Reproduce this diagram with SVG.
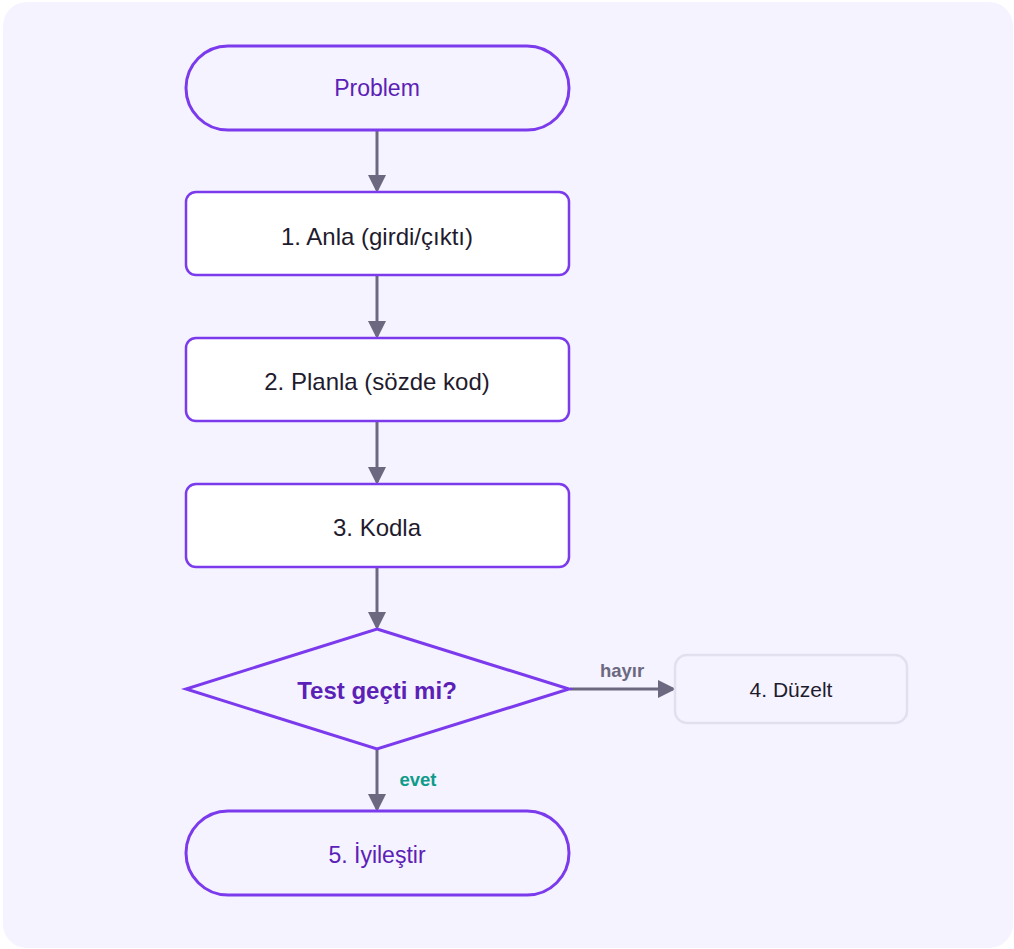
<svg xmlns="http://www.w3.org/2000/svg" width="1014" height="949" viewBox="0 0 1014 949">
<style>
.bg{fill:#f5f3ff}
.term{fill:#f5f3ff;stroke:#7c3aed;stroke-width:3}
.proc{fill:#ffffff;stroke:#7c3aed;stroke-width:2.5}
.dec{fill:#f5f3ff;stroke:#7c3aed;stroke-width:3}
.soft{fill:#f5f3ff;stroke:#e2dfef;stroke-width:2.5}
.t{font-family:"Liberation Sans",Arial,sans-serif;text-anchor:middle;dominant-baseline:central}
.tp{fill:#5b21b6;font-size:23px}
.td{fill:#1f1b2e;font-size:24px}
.tb{fill:#5b21b6;font-size:24px;font-weight:bold}
.ts{fill:#1f1b2e;font-size:21px}
.lbl{font-family:"Liberation Sans",Arial,sans-serif;font-size:18.5px;font-weight:bold}
.edge{stroke:#6b6880;stroke-width:3;fill:none;marker-end:url(#ah)}
</style>
<defs>
<marker id="ah" markerWidth="6" markerHeight="6" refX="5" refY="3" orient="auto" markerUnits="strokeWidth">
<path d="M0,0 L6,3 L0,6 Z" fill="#6b6880"/>
</marker>
</defs>
<rect x="0" y="0" width="1014" height="949" fill="#ffffff"/>
<rect class="bg" x="3" y="2" width="1010" height="946" rx="24"/>
<g id="edges">
<line class="edge" x1="377" y1="131" x2="377" y2="190"/>
<line class="edge" x1="377" y1="276" x2="377" y2="336"/>
<line class="edge" x1="377" y1="422" x2="377" y2="482"/>
<line class="edge" x1="377" y1="568" x2="377" y2="627"/>
<line class="edge" x1="570" y1="689" x2="673" y2="689"/>
<line class="edge" x1="377" y1="750" x2="377" y2="809"/>
<text class="lbl" x="622" y="677" text-anchor="middle" fill="#6b6880">hayır</text>
<text class="lbl" x="418" y="786" text-anchor="middle" fill="#0f9b8a">evet</text>
</g>
<g id="problem">
<rect class="term" x="186" y="46" width="383" height="84" rx="42"/>
<text class="t tp" x="377" y="88">Problem</text>
</g>
<g id="anla">
<rect class="proc" x="186" y="192" width="383" height="83" rx="10"/>
<text class="t td" x="377" y="236">1. Anla (girdi/çıktı)</text>
</g>
<g id="planla">
<rect class="proc" x="186" y="338" width="383" height="83" rx="10"/>
<text class="t td" x="377" y="381">2. Planla (sözde kod)</text>
</g>
<g id="kodla">
<rect class="proc" x="186" y="484" width="383" height="83" rx="10"/>
<text class="t td" x="377" y="527">3. Kodla</text>
</g>
<g id="test">
<polygon class="dec" points="377,629 569,689 377,749 186,689"/>
<text class="t tb" x="377" y="690">Test geçti mi?</text>
</g>
<g id="duzelt">
<rect class="soft" x="675" y="655" width="232" height="68" rx="12"/>
<text class="t ts" x="791" y="689">4. Düzelt</text>
</g>
<g id="iyilestir">
<rect class="term" x="186" y="811" width="383" height="84" rx="42"/>
<text class="t tp" x="377" y="855">5. İyileştir</text>
</g>
</svg>
